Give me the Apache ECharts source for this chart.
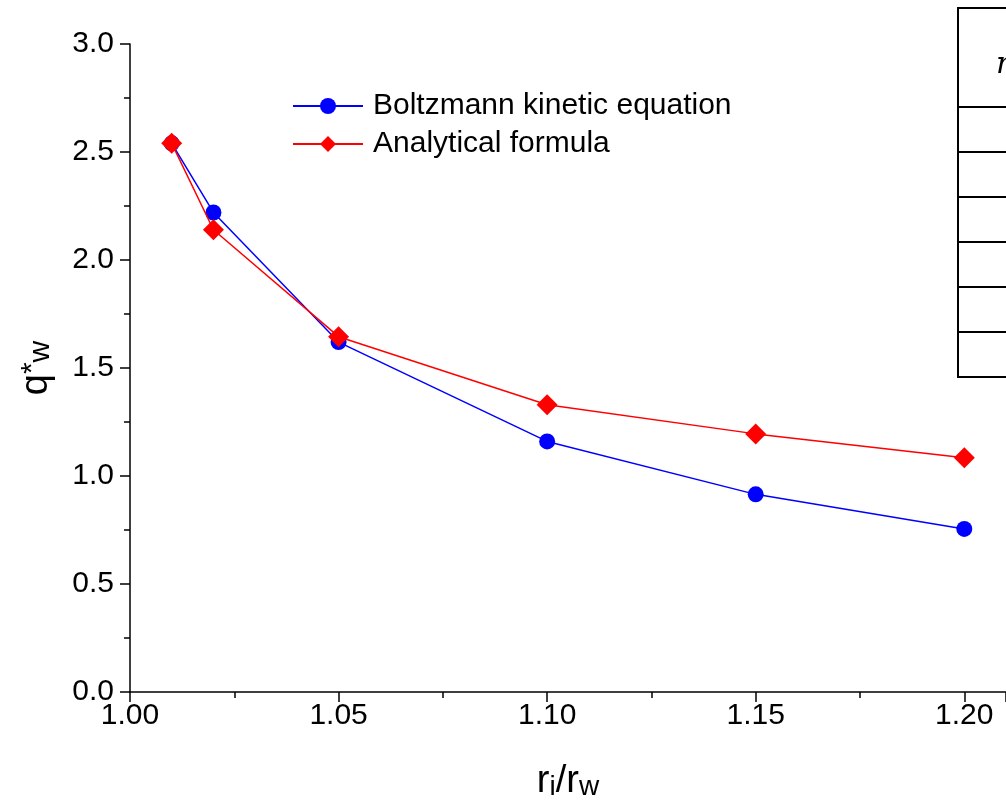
<!DOCTYPE html>
<html>
<head>
<meta charset="utf-8">
<script src="https://cdn.jsdelivr.net/npm/echarts@6/dist/echarts.min.js"></script>
<style>
html,body{margin:0;padding:0;background:#fff;}
#chart{width:1006px;height:812px;}
</style>
</head>
<body>
<div id="chart"></div>
<script>
// ---- data ----
const xValues = [1.01, 1.02, 1.05, 1.10, 1.15, 1.20];
const boltzmann = [2.54, 2.22, 1.62, 1.16, 0.915, 0.755];
const analytical = [2.54, 2.14, 1.645, 1.33, 1.195, 1.085];
const seriesNames = ['Boltzmann kinetic equation', 'Analytical formula'];
const tableRows = 7;

const FONT = '"Liberation Sans", Arial, sans-serif';
const chart = echarts.init(document.getElementById('chart'), null, {renderer: 'canvas'});

const pair = (xs, ys) => xs.map((x, i) => [x, ys[i]]);

// table decoration (cut-off at right edge)
const tableTop = 8, tableBottom = 377, tableLeft = 958, rowH = 45;
const tableEls = [{
  type: 'rect', z: 100,
  shape: {x: tableLeft, y: tableTop, width: 80, height: tableBottom - tableTop},
  style: {fill: '#fff', stroke: '#000', lineWidth: 2}
}];
for (let i = 0; i < tableRows - 1; i++) {
  const y = tableBottom - rowH * (i + 1);
  tableEls.push({type: 'line', z: 101, shape: {x1: tableLeft, y1: y, x2: 1010, y2: y}, style: {stroke: '#000', lineWidth: 2}});
}
tableEls.push({type: 'text', z: 102, x: 996, y: 50, style: {text: 'r', font: 'italic 30px "DejaVu Serif", serif', fill: '#000'}});

const axisCommon = {
  axisLine: {show: true, onZero: false, lineStyle: {color: '#000', width: 1.5}},
  axisTick: {show: true, inside: false, length: 10, lineStyle: {color: '#000', width: 1.5}},
  minorTick: {show: true, splitNumber: 2, length: 6, lineStyle: {color: '#000', width: 1.5}},
  splitLine: {show: false},
  minorSplitLine: {show: false}
};

chart.setOption({
  animation: false,
  backgroundColor: '#fff',
  grid: {left: 129, top: 44, bottom: 120, right: -5, containLabel: false},
  xAxis: Object.assign({
    type: 'value', min: 1.00, max: 1.21, interval: 0.05,
    axisLabel: {fontFamily: FONT, fontSize: 30, color: '#000', margin: 9, showMaxLabel: false,
      formatter: v => v.toFixed(2)},
    name: '{r|r}{s|i}{r|/r}{s|w}',
    nameLocation: 'middle', nameGap: 71,
    nameTextStyle: {
      rich: {
        r: {fontFamily: FONT, fontSize: 38, color: '#000', lineHeight: 38, verticalAlign: 'top'},
        s: {fontFamily: FONT, fontSize: 28, color: '#000', lineHeight: 28, verticalAlign: 'bottom', padding: [24, 0, 0, 0]}
      }
    }
  }, axisCommon),
  yAxis: Object.assign({
    type: 'value', min: 0, max: 3.0, interval: 0.5,
    axisLabel: {fontFamily: FONT, fontSize: 30, color: '#000', margin: 16,
      formatter: v => v.toFixed(1)},
    name: '{q|q}{p|*}{s|w}',
    nameLocation: 'middle', nameGap: 74, nameRotate: 90,
    nameTextStyle: {
      rich: {
        q: {fontFamily: FONT, fontSize: 38, color: '#000', lineHeight: 38, verticalAlign: 'middle'},
        p: {fontFamily: FONT, fontSize: 30, color: '#000', lineHeight: 30, verticalAlign: 'top'},
        s: {fontFamily: FONT, fontSize: 30, color: '#000', lineHeight: 30, verticalAlign: 'bottom', padding: [18, 0, 0, 0]}
      }
    }
  }, axisCommon),
  legend: {
    orient: 'vertical', left: 287, top: 86,
    itemWidth: 70, itemHeight: 20, itemGap: 8,
    textStyle: {fontFamily: FONT, fontSize: 30, color: '#000', padding: [0, 0, 0, 5]},
    data: seriesNames
  },
  series: [
    {
      name: seriesNames[0], type: 'line', data: pair(xValues, boltzmann),
      symbol: 'circle', symbolSize: 16,
      lineStyle: {color: '#0000ff', width: 1.5},
      itemStyle: {color: '#0000ff'}, z: 2
    },
    {
      name: seriesNames[1], type: 'line', data: pair(xValues, analytical),
      symbol: 'diamond', symbolSize: 21,
      lineStyle: {color: '#ff0000', width: 1.5},
      itemStyle: {color: '#ff0000'}, z: 3
    }
  ],
  graphic: tableEls
});
</script>
</body>
</html>
